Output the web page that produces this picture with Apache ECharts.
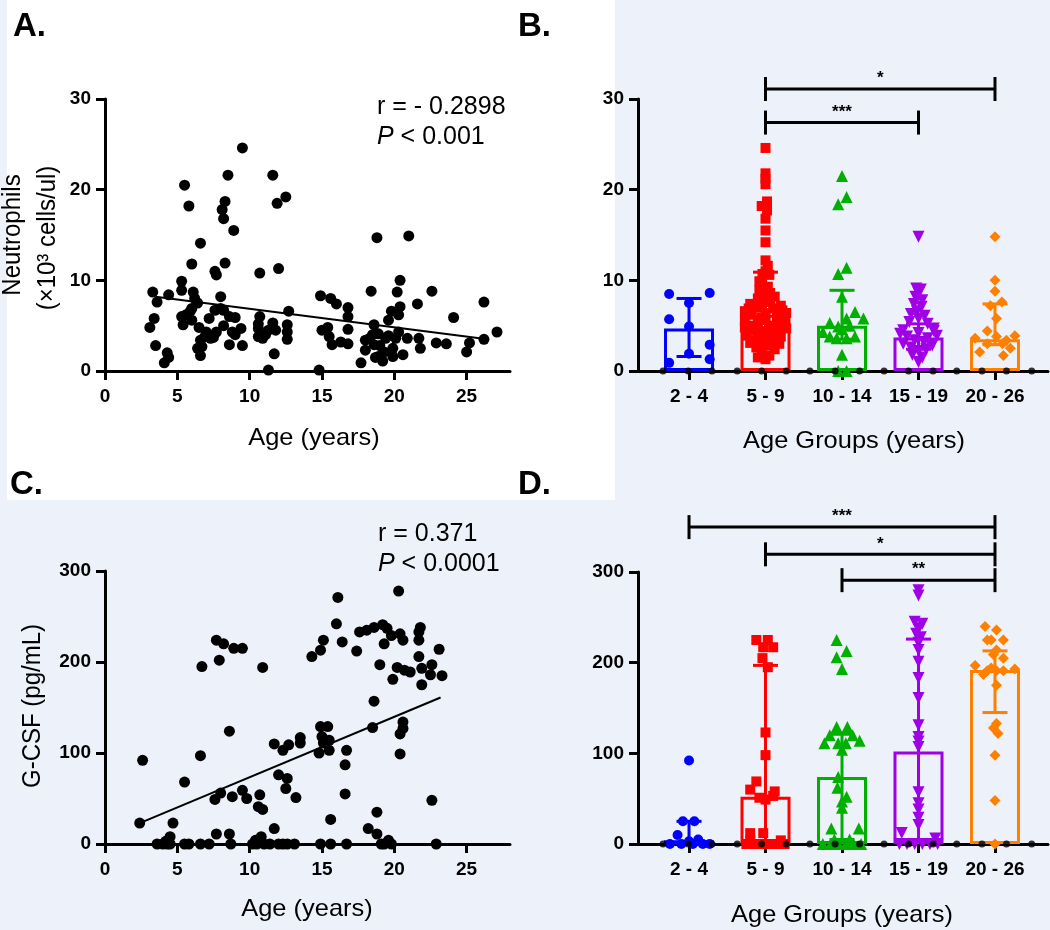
<!DOCTYPE html>
<html><head><meta charset="utf-8">
<script src="https://cdn.jsdelivr.net/npm/echarts@6/dist/echarts.min.js"></script>
<style>html,body{margin:0;padding:0;background:#edf1f9}#c{width:1050px;height:930px}</style>
</head><body><div id="c"></div><script>
// ---------- DATA ----------
const groupNames = ['2 - 4', '5 - 9', '10 - 14', '15 - 19', '20 - 26'];
const ticksAgeX = [0, 5, 10, 15, 20, 25];
const ticksGroupX = [1, 2, 3, 4, 5];

// Panel A: age vs neutrophils
const neutScatter = [[9.5,24.6],[8.5,21.6],[11.6,21.6],[5.5,20.5],[5.8,18.2],[8.3,18.7],[8.1,17.8],[8.2,16.8],[11.9,18.5],[12.5,19.2],[8.9,15.5],[6.6,14.1],[6.0,11.8],[8.3,11.9],[7.6,11.0],[7.7,10.6],[10.7,10.8],[12.0,11.3],[18.8,14.7],[21.0,14.9],[20.4,10.0],[18.4,8.8],[20.2,8.7],[22.6,8.8],[26.2,7.6],[27.1,4.3],[24.1,5.9],[21.6,7.4],[20.4,7.1],[20.3,6.2],[19.8,6.6],[19.6,5.6],[18.6,5.1],[18.5,4.0],[18.6,2.9],[18.0,2.3],[17.7,0.9],[18.9,1.6],[19.3,2.1],[20.1,3.6],[20.9,3.6],[19.4,3.6],[19.9,2.5],[20.6,1.8],[21.8,2.5],[22.9,3.1],[23.6,3.0],[25.2,3.1],[25.0,2.1],[26.2,3.5],[14.9,8.3],[15.6,8.0],[16.0,7.4],[16.8,7.0],[16.8,6.0],[16.8,4.6],[15.0,4.5],[15.4,4.8],[15.5,3.8],[15.7,2.9],[16.3,3.2],[16.8,3.0],[14.8,0.1],[11.3,0.1],[11.7,1.9],[12.7,6.6],[12.6,5.1],[12.6,4.3],[12.6,3.5],[11.6,5.3],[11.3,4.5],[11.1,4.0],[10.6,3.8],[10.9,3.6],[10.7,6.0],[10.6,5.2],[10.6,4.7],[9.5,2.8],[8.6,2.9],[9.4,4.7],[9.0,5.9],[8.8,4.3],[8.2,5.0],[8.2,6.7],[8.0,6.9],[7.6,6.7],[8.0,8.2],[8.6,6.0],[7.2,5.8],[7.0,4.3],[6.9,3.8],[6.5,4.8],[6.6,3.4],[6.7,2.7],[6.6,1.7],[6.4,2.5],[7.3,3.6],[7.7,4.3],[7.5,3.7],[6.1,8.7],[6.4,7.5],[6.0,6.9],[6.2,8.0],[5.9,6.6],[5.3,6.0],[5.4,5.1],[5.3,9.9],[5.3,8.9],[4.4,8.4],[3.3,8.7],[3.6,7.6],[3.4,5.8],[3.1,4.8],[3.5,2.8],[4.3,2.0],[4.4,1.5],[4.1,0.9],[5.6,6.2],[6.0,5.6],[9.0,4.0],[11.8,4.5],[18.0,3.4],[18.9,4.1],[19.6,3.9],[20.3,4.3],[19.9,1.6],[19.2,1.1],[18.3,3.6],[18.7,1.5],[19.0,2.8],[21.7,3.6]];
const neutFit = [[3.5, 8.2], [25.9, 3.6]];

// Panel C: age vs G-CSF
const gcsfScatter = [[16.1,271],[20.3,278],[16.0,242],[16.4,222],[15.1,224],[14.9,213],[14.3,206],[17.4,212],[17.6,233],[18.1,235],[18.6,238],[19.2,241],[19.5,237],[19.3,220],[19.8,229],[20.4,231],[20.6,224],[21.8,238],[21.7,233],[21.7,224],[23.1,214],[19.0,197],[20.2,194],[20.7,191],[21.1,189],[19.9,181],[21.7,206],[21.9,193],[22.6,197],[22.5,186],[23.3,185],[21.9,175],[18.6,157],[18.5,128],[20.6,134],[20.6,127],[20.4,121],[20.4,99],[22.6,48],[18.8,35],[18.2,17],[18.8,11],[15.6,27],[16.6,87],[16.7,103],[16.6,55],[14.9,129],[15.4,129],[15.0,118],[15.5,114],[15.1,111],[15.5,103],[14.8,100],[13.5,117],[13.5,111],[12.7,109],[12.3,103],[11.7,110],[8.6,124],[6.6,97],[2.6,92],[5.5,68],[12.0,76],[12.6,72],[12.5,61],[13.2,51],[7.6,49],[8.0,56],[8.8,52],[9.5,59],[9.8,50],[10.7,54],[10.6,41],[10.9,38],[2.4,23],[4.7,23],[7.7,11],[8.6,11],[11.7,17],[4.5,8],[10.8,8],[7.7,224],[8.2,220],[8.9,215],[9.5,215],[7.9,202],[6.7,195],[10.9,194],[3.6,0],[4.0,0],[4.3,0],[4.5,0],[5.5,0],[5.8,0],[6.6,0],[7.2,0],[8.7,0],[10.2,0],[10.5,0],[11.0,0],[11.4,0],[12.0,0],[12.3,0],[12.6,0],[13.1,0],[14.9,0],[15.6,0],[16.7,0],[19.1,0],[19.3,0],[19.8,0],[22.9,0],[4.2,3],[10.4,4],[19.6,4]];
const gcsfFit = [[2.4, 23], [23.2, 161]];

// Panel B: neutrophils by age group  (points: [jitter offset, value])
const neutBar = [4.7, 6.2, 5.0, 3.7, 3.5];
const neutErr = [[1.6, 8.0], [3.8, 10.9], [3.5, 8.9], [2.4, 5.2], [2.9, 7.4]];
const neutG1 = [[-0.26,8.5],[0.27,8.6],[-0.26,5.7],[0,7.5],[0,4.9],[0.27,2.9],[0,1.9],[0.27,1.3],[-0.26,0.9]];
const neutG2 = [[0,24.6],[0,21.8],[0,21.2],[0,20.6],[0.02,18.7],[-0.05,18.2],[0.02,17.7],[0,16.8],[0,15.5],[0,14.2],[0,12.2],[0.03,11.6],[0,11.0],[-0.04,10.7],[0.05,10.6],[-0.08,9.9],[0.03,9.3],[-0.08,8.9],[0.06,8.6],[0.12,8.2],[-0.1,8.0],[0,7.8],[-0.2,7.4],[0.2,7.2],[-0.12,7.0],[0.1,6.9],[-0.27,6.6],[0.27,6.4],[-0.18,6.2],[0.15,6.0],[-0.05,5.9],[-0.27,5.6],[0.25,5.5],[-0.1,5.3],[0.1,5.0],[-0.27,4.8],[0.27,4.7],[-0.17,4.5],[0.17,4.3],[0,4.1],[-0.25,3.9],[0.2,3.8],[-0.1,3.6],[0.1,3.4],[-0.2,3.1],[0.18,3.0],[0,2.8],[-0.12,2.6],[0.12,2.4],[-0.05,2.0],[0.05,1.7],[-0.1,1.5],[0,1.3],[0,6.4],[-0.06,7.2],[0.06,7.6],[-0.2,5.0],[0.2,5.2],[0,5.6],[-0.06,4.4],[0.08,4.6],[-0.15,3.4],[0.1,3.9],[0,3.2],[-0.22,6.9],[0.22,6.7],[0,8.4]];
const neutG3 = [[0,21.5],[0.06,19.2],[-0.05,18.4],[0.06,11.4],[-0.05,10.7],[0,8.2],[0.17,6.5],[0.28,5.8],[0.06,5.8],[-0.16,5.3],[-0.05,4.9],[0.1,5.0],[0,4.6],[-0.25,4.3],[-0.16,3.8],[-0.07,3.6],[0.06,3.6],[0.17,3.8],[0,1.8],[-0.05,0],[0.06,0]];
const neutG4 = [[0,14.8],[-0.03,9.1],[0.03,9.0],[0,8.6],[-0.04,8.2],[0.05,7.8],[-0.06,7.4],[0.04,7.1],[-0.02,6.6],[-0.1,6.3],[0.08,6.1],[0,5.8],[-0.12,5.4],[0.12,5.2],[0.2,4.7],[-0.2,4.5],[0.2,4.4],[-0.24,4.1],[0,4.2],[0.24,3.9],[-0.15,3.8],[0.12,3.6],[-0.05,3.4],[0.07,3.2],[-0.2,3.0],[0.18,2.8],[-0.1,2.6],[0.1,2.4],[0,2.2],[-0.08,1.8],[0.05,1.5],[0,1.0]];
const neutG5 = [[0,14.8],[0,10.0],[0,8.8],[0.09,7.6],[-0.06,7.2],[0.02,5.8],[-0.1,4.4],[0.02,3.8],[0.26,3.9],[-0.26,3.6],[-0.1,3.0],[0.1,3.0],[-0.2,2.1],[0.2,2.5],[0.11,1.7],[0.15,3.4]];
const neutBrackets = [[2, 5, 31.1], [2, 4, 27.4]];
const neutStars = ['*', '***'];

// Panel D: G-CSF by age group
const gcsfBar = [4, 52, 74, 102, 192];
const gcsfErr = [[0, 25], [0, 197], [5, 121], [5, 226], [145, 213]];
const gcsfG1 = [[0,92],[-0.08,25],[0.07,25],[-0.15,10],[0.12,5],[-0.25,0],[-0.1,0],[0.05,0],[0.18,0],[0.27,0],[0,3]];
const gcsfG2 = [[-0.12,225],[0.03,225],[0.1,217],[-0.03,217],[-0.04,205],[0.03,195],[0,123],[0,98],[-0.12,69],[-0.2,60],[0.12,58],[-0.08,51],[0,49],[0.1,53],[-0.2,12],[-0.03,12],[-0.25,0],[-0.15,0],[-0.05,0],[0.05,0],[0.15,0],[0.25,0],[-0.2,4],[0.2,4]];
const gcsfG3 = [[-0.07,225],[0.06,213],[-0.07,206],[0,193],[-0.07,129],[0.07,129],[-0.16,120],[0.14,120],[-0.23,111],[0.23,114],[-0.05,111],[0.05,111],[0,104],[-0.05,74],[-0.06,62],[0.06,52],[0,40],[0,47],[-0.14,17],[0.22,17],[-0.25,0],[-0.15,0],[-0.05,0],[0.05,0],[0.15,0],[0.25,0],[-0.1,5],[0.1,5]];
const gcsfG4 = [[0,280],[0,274],[-0.05,245],[0.05,243],[0,238],[-0.03,232],[0.03,228],[0,222],[0,214],[0,201],[0,183],[0,161],[0,131],[0,118],[0,113],[0,107],[0,57],[0,45],[0,38],[0,29],[0,21],[-0.22,12],[0.22,6],[-0.25,0],[-0.15,0],[-0.05,0],[0.05,0],[0.15,0],[0.25,0]];
const gcsfG5 = [[-0.13,240],[0.02,236],[0.11,225],[-0.05,225],[-0.1,225],[0.02,214],[0.11,205],[-0.02,209],[-0.26,197],[-0.1,191],[-0.05,194],[0.02,191],[0.11,191],[0.26,193],[-0.15,187],[0.02,175],[0.02,133],[-0.02,128],[0.04,122],[0,98],[0,48],[0,0]];
const gcsfBrackets = [[1, 5, 349.5], [2, 5, 319.5], [3, 5, 291]];
const gcsfStars = ['***', '*', '**'];

// small black markers sitting on the group x-axes
const axisDots = [0.66, 0.99, 1.30, 1.63, 1.95, 2.27, 2.58, 2.91, 3.23, 3.55, 3.87, 4.19, 4.50, 4.83, 5.15, 5.48];

// ---------- STYLE ----------
const FONT = "'Liberation Sans', Arial, Helvetica, sans-serif";
const groupColors = ['#0000ff', '#ff0000', '#00b000', '#a000e6', '#ff8000'];
const groupSymbols = ['circle', 'rect', 'triangle', 'triangle', 'diamond'];
const groupRotate = [0, 0, 0, 180, 0];
const groupSizes = [10, 10, 12, 12, 11];
const TICK_FS = 19;

function axisBase(extra) {
  return Object.assign({
    axisLine: { show: true, onZero: false, lineStyle: { color: '#000', width: 3 } },
    axisTick: { show: true, length: 9, lineStyle: { color: '#000', width: 3 } },
    axisLabel: { color: '#000', fontFamily: FONT, fontWeight: 'bold', fontSize: TICK_FS, margin: 14 },
    splitLine: { show: false }
  }, extra);
}

function errRender(params, api) {
  const x = api.value(0), lo = api.value(1), hi = api.value(2);
  const pl = api.coord([x, lo]), ph = api.coord([x, hi]);
  const c = groupColors[params.dataIndex];
  const st = { stroke: c, lineWidth: 3 };
  const hw = 12.5;
  return { type: 'group', children: [
    { type: 'line', shape: { x1: pl[0], y1: pl[1], x2: ph[0], y2: ph[1] }, style: st },
    { type: 'line', shape: { x1: ph[0] - hw, y1: ph[1], x2: ph[0] + hw, y2: ph[1] }, style: st },
    { type: 'line', shape: { x1: pl[0] - hw, y1: pl[1], x2: pl[0] + hw, y2: pl[1] }, style: st }
  ]};
}

function bracketRender(stars) {
  return function (params, api) {
    const x1 = api.value(0), x2 = api.value(1), y = api.value(2);
    const p1 = api.coord([x1, y]), p2 = api.coord([x2, y]);
    const st = { stroke: '#000', lineWidth: 3 };
    return { type: 'group', children: [
      { type: 'line', shape: { x1: p1[0], y1: p1[1], x2: p2[0], y2: p2[1] }, style: st },
      { type: 'line', shape: { x1: p1[0], y1: p1[1] - 12, x2: p1[0], y2: p1[1] + 12 }, style: st },
      { type: 'line', shape: { x1: p2[0], y1: p2[1] - 12, x2: p2[0], y2: p2[1] + 12 }, style: st },
      { type: 'text', x: (p1[0] + p2[0]) / 2, y: p1[1] - 2,
        style: { text: stars[params.dataIndex], align: 'center', verticalAlign: 'bottom',
                 font: 'bold 17px ' + FONT, fill: '#000' } }
    ]};
  };
}

function groupSeries(gi, bars, errs, groups, brackets, stars) {
  const out = [];
  out.push({
    type: 'bar', xAxisIndex: gi, yAxisIndex: gi, barWidth: 50, z: 2, silent: true,
    data: bars.map((v, i) => ({ value: [i + 1, v], itemStyle: { borderColor: groupColors[i] } })),
    itemStyle: { color: 'rgba(0,0,0,0)', borderWidth: 3 }
  });
  out.push({
    type: 'custom', xAxisIndex: gi, yAxisIndex: gi, z: 3, clip: false, silent: true,
    data: errs.map((e, i) => [i + 1, e[0], e[1]]), renderItem: errRender
  });
  groups.forEach((g, i) => {
    out.push({
      type: 'scatter', xAxisIndex: gi, yAxisIndex: gi, z: 4, silent: true,
      symbol: groupSymbols[i], symbolSize: groupSizes[i], symbolRotate: groupRotate[i],
      itemStyle: { color: groupColors[i], opacity: 1 },
      data: g.map(p => [i + 1 + p[0], p[1]])
    });
  });
  out.push({
    type: 'scatter', xAxisIndex: gi, yAxisIndex: gi, z: 5, silent: true,
    symbol: 'circle', symbolSize: 7, itemStyle: { color: '#000' },
    data: axisDots.map(x => [x, 0])
  });
  out.push({
    type: 'custom', xAxisIndex: gi, yAxisIndex: gi, z: 5, clip: false, silent: true,
    data: brackets, renderItem: bracketRender(stars)
  });
  return out;
}

const groupXAxis = (gi) => axisBase({
  gridIndex: gi, type: 'value', min: 0.333, max: 5.693,
  axisTick: { show: true, length: 9, customValues: ticksGroupX, lineStyle: { color: '#000', width: 3 } },
  axisLabel: { color: '#000', fontFamily: FONT, fontWeight: 'bold', fontSize: TICK_FS, margin: 16,
               customValues: ticksGroupX, formatter: v => groupNames[Math.round(v) - 1] || '' }
});
const ageXAxis = (gi) => axisBase({
  gridIndex: gi, type: 'value', min: 0, max: 28,
  axisTick: { show: true, length: 9, customValues: ticksAgeX, lineStyle: { color: '#000', width: 3 } },
  axisLabel: { color: '#000', fontFamily: FONT, fontWeight: 'bold', fontSize: TICK_FS, margin: 16,
               customValues: ticksAgeX }
});

const titleText = (x, y, text, rot) => ({
  type: 'text', x: x, y: y, rotation: rot || 0, scaleX: rot ? 1 : 1.06, scaleY: rot ? 1.04 : 1,
  style: { text: text, font: '24px ' + FONT, fill: '#000', align: 'center', verticalAlign: 'middle' }
});

const option = {
  backgroundColor: '#edf1f9',
  animation: false,
  grid: [
    { left: 105, top: 99, width: 405, height: 272 },
    { left: 638, top: 99, width: 410, height: 272 },
    { left: 105, top: 571, width: 405, height: 273 },
    { left: 638, top: 572, width: 410, height: 272 }
  ],
  xAxis: [ageXAxis(0), groupXAxis(1), ageXAxis(2), groupXAxis(3)],
  yAxis: [
    axisBase({ gridIndex: 0, type: 'value', min: 0, max: 30, interval: 10 }),
    axisBase({ gridIndex: 1, type: 'value', min: 0, max: 30, interval: 10 }),
    axisBase({ gridIndex: 2, type: 'value', min: 0, max: 300, interval: 100 }),
    axisBase({ gridIndex: 3, type: 'value', min: 0, max: 300, interval: 100 })
  ],
  series: [
    { type: 'scatter', xAxisIndex: 0, yAxisIndex: 0, symbolSize: 11, itemStyle: { color: '#000', opacity: 1 }, data: neutScatter, z: 4, silent: true },
    { type: 'line', xAxisIndex: 0, yAxisIndex: 0, data: neutFit, showSymbol: false, symbol: 'none', lineStyle: { color: '#000', width: 2 }, z: 5, silent: true },
    { type: 'scatter', xAxisIndex: 2, yAxisIndex: 2, symbolSize: 11, itemStyle: { color: '#000', opacity: 1 }, data: gcsfScatter, z: 4, silent: true },
    { type: 'line', xAxisIndex: 2, yAxisIndex: 2, data: gcsfFit, showSymbol: false, symbol: 'none', lineStyle: { color: '#000', width: 2 }, z: 5, silent: true }
  ].concat(
    groupSeries(1, neutBar, neutErr, [neutG1, neutG2, neutG3, neutG4, neutG5], neutBrackets, neutStars),
    groupSeries(3, gcsfBar, gcsfErr, [gcsfG1, gcsfG2, gcsfG3, gcsfG4, gcsfG5], gcsfBrackets, gcsfStars)
  ),
  graphic: [
    { type: 'rect', shape: { x: 7, y: 0, width: 608, height: 500 }, style: { fill: '#ffffff' }, z: -100, silent: true },
    { type: 'text', x: 13, y: 27, style: { text: 'A.', font: 'bold 33px ' + FONT, fill: '#000', verticalAlign: 'middle' } },
    { type: 'text', x: 518, y: 27, style: { text: 'B.', font: 'bold 33px ' + FONT, fill: '#000', verticalAlign: 'middle' } },
    { type: 'text', x: 10, y: 485, style: { text: 'C.', font: 'bold 33px ' + FONT, fill: '#000', verticalAlign: 'middle' } },
    { type: 'text', x: 518, y: 485, style: { text: 'D.', font: 'bold 33px ' + FONT, fill: '#000', verticalAlign: 'middle' } },
    titleText(314, 438, 'Age (years)'),
    titleText(854, 441, 'Age Groups (years)'),
    titleText(307, 909, 'Age (years)'),
    titleText(842, 915, 'Age Groups (years)'),
    titleText(13, 235, 'Neutrophils', Math.PI / 2),
    titleText(48, 238, '(×10³ cells/ul)', Math.PI / 2),
    titleText(33, 706, 'G-CSF (pg/mL)', Math.PI / 2),
    { type: 'text', x: 377, y: 107, style: { text: 'r = - 0.2898', font: '25px ' + FONT, fill: '#000', verticalAlign: 'middle' } },
    { type: 'text', x: 377, y: 137, style: { text: '{i|P} < 0.001', fontSize: 25, fontFamily: FONT, fill: '#000', verticalAlign: 'middle', rich: { i: { fontStyle: 'italic', fontSize: 25, fontFamily: FONT, fill: '#000' } } } },
    { type: 'text', x: 378, y: 534, style: { text: 'r = 0.371', font: '25px ' + FONT, fill: '#000', verticalAlign: 'middle' } },
    { type: 'text', x: 378, y: 564, style: { text: '{i|P} < 0.0001', fontSize: 25, fontFamily: FONT, fill: '#000', verticalAlign: 'middle', rich: { i: { fontStyle: 'italic', fontSize: 25, fontFamily: FONT, fill: '#000' } } } }
  ]
};

const chart = echarts.init(document.getElementById('c'));
chart.setOption(option);
</script></body></html>
